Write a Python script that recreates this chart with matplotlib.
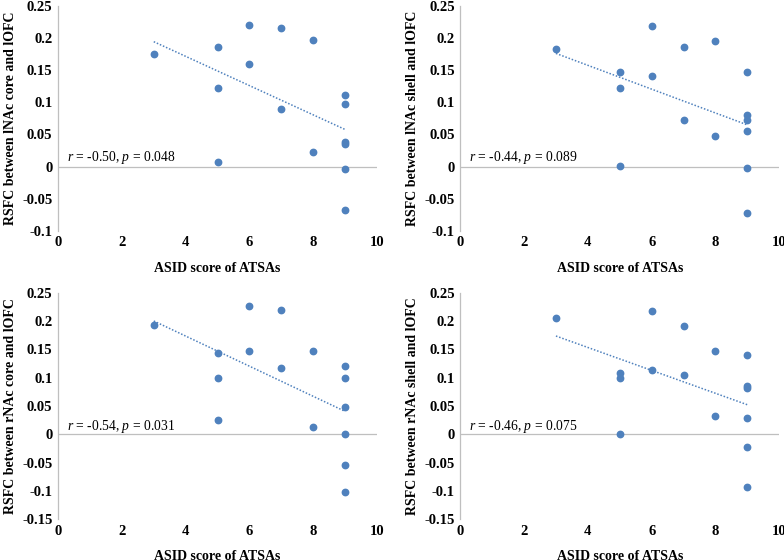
import numpy as np
import matplotlib
matplotlib.use("Agg")
import matplotlib.pyplot as plt

plt.rcParams["font.family"] = ["Liberation Serif", "DejaVu Serif"]
plt.rcParams["mathtext.fontset"] = "custom"
plt.rcParams["mathtext.it"] = "Liberation Serif:italic"
plt.rcParams["mathtext.rm"] = "Liberation Serif"

# ASID scores (same subjects in every panel)
asid = [3, 5, 5, 5, 6, 6, 7, 7, 8, 8, 9, 9, 9, 9, 9, 9]

# RSFC values
lnac_core = [0.176, 0.186, 0.122, 0.007, 0.220, 0.160, 0.216, 0.089,
             0.198, 0.023, 0.112, 0.098, 0.038, 0.035, -0.004, -0.068]
lnac_shell = [0.184, 0.147, 0.123, 0.001, 0.219, 0.141, 0.186, 0.073,
              0.195, 0.047, 0.147, 0.080, 0.072, 0.055, -0.002, -0.072]
rnac_core = [0.194, 0.144, 0.100, 0.026, 0.226, 0.147, 0.219, 0.118,
             0.148, 0.012, 0.121, 0.099, 0.048, 0.001, -0.055, -0.102]
rnac_shell = [0.205, 0.109, 0.099, 0.001, 0.218, 0.114, 0.191, 0.105,
              0.148, 0.033, 0.141, 0.086, 0.081, 0.028, -0.022, -0.094]

ylabels = ["RSFC between lNAc core and lOFC",
           "RSFC between lNAc shell and lOFC",
           "RSFC between rNAc core and lOFC",
           "RSFC between rNAc shell and lOFC"]
stats = [r"$r$ = -0.50, $p$ = 0.048",
         r"$r$ = -0.44, $p$ = 0.089",
         r"$r$ = -0.54, $p$ = 0.031",
         r"$r$ = -0.46, $p$ = 0.075"]
series = [lnac_core, lnac_shell, rnac_core, rnac_shell]

BLUE = "#4F81BD"
GRAY = "#BFBFBF"

fig = plt.figure(figsize=(7.84, 5.60), dpi=100)

# axes boxes in figure fractions (left, bottom, width, height)
boxes = [(0.074, 0.588, 0.407, 0.401),
         (0.587, 0.588, 0.407, 0.401),
         (0.074, 0.073, 0.407, 0.404),
         (0.587, 0.073, 0.407, 0.404)]
ylims = [(-0.1, 0.25), (-0.1, 0.25), (-0.15, 0.25), (-0.15, 0.25)]

for i in range(4):
    ax = fig.add_axes(boxes[i])
    x = np.array(asid, dtype=float)
    y = np.array(series[i])

    ax.plot(x, y, "o", color=BLUE, markersize=4.6, zorder=3)

    # linear trendline, like Excel
    k, b = np.polyfit(x, y, 1)
    xs = np.array([x.min(), x.max()])
    ax.plot(xs, k * xs + b, ls=(0, (1, 1.2)), color=BLUE, lw=1.1, zorder=2)

    ax.axhline(0, color=GRAY, lw=0.9, zorder=1)

    ax.set_xlim(0, 10)
    ax.set_ylim(*ylims[i])
    ax.set_xticks([0, 2, 4, 6, 8, 10])
    yt = np.arange(ylims[i][0], 0.2501, 0.05).round(2)
    ax.set_yticks(yt)
    ax.set_yticklabels([f"{v:g}" if abs(v) > 1e-9 else "0" for v in yt])

    for s in ["top", "right", "bottom"]:
        ax.spines[s].set_visible(False)
    ax.spines["left"].set_color(GRAY)
    ax.spines["left"].set_linewidth(0.9)
    ax.tick_params(length=0, labelsize=10.5, pad=4)
    for t in ax.get_xticklabels() + ax.get_yticklabels():
        t.set_fontweight("bold")

    ax.set_xlabel("ASID score of ATSAs", fontsize=10, fontweight="bold", labelpad=9)
    ax.set_ylabel(ylabels[i], fontsize=10, fontweight="bold", labelpad=4)

    ax.text(0.28, 0.014, stats[i], fontsize=9.8, va="center", ha="left")

fig.savefig("out.png", dpi=100)
